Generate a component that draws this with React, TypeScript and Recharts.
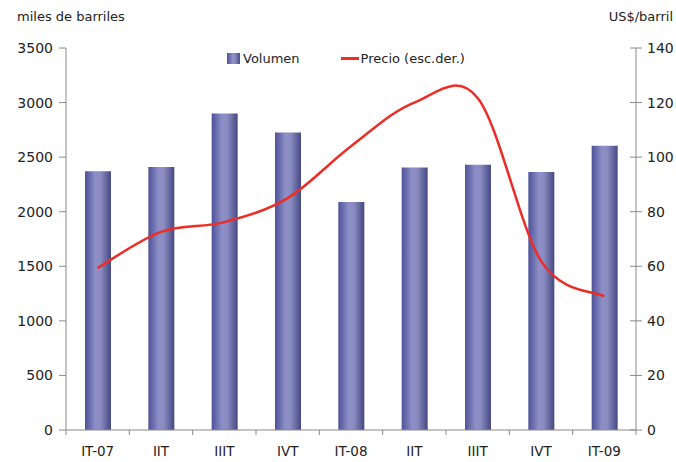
import React from "react";
import { ComposedChart, Bar, Line, XAxis, YAxis, Legend } from "recharts";

// trimestres
const categories = ["IT-07", "IIT", "IIIT", "IVT", "IT-08", "IIT", "IIIT", "IVT", "IT-09"];
// miles de barriles
const volumen = [2370, 2410, 2900, 2725, 2090, 2405, 2430, 2365, 2605];
// US$/barril
const precio = [59.4, 72.6, 76.2, 85, 104, 120, 121.7, 62, 49];

const volTicks = [0, 500, 1000, 1500, 2000, 2500, 3000, 3500];
const precioTicks = [0, 20, 40, 60, 80, 100, 120, 140];

const data = categories.map((c, i) => ({
  periodo: c,
  volumen: volumen[i],
  precio: precio[i],
}));

const AXIS = "#8a8a8a";
const TXT = "#222";
const FONT = "'DejaVu Sans', Verdana, sans-serif";
const X_GAP = 16; // tickSize + tickMargin del eje x
const R_GAP = 11; // tickSize + tickMargin del eje derecho

// suavizado tipo Excel (bezier, puntos de control a 1/6)
const smoothCurve = (context: any) => {
  let pts: number[][] = [];
  return {
    areaStart() {},
    areaEnd() {},
    lineStart() {
      pts = [];
    },
    point(x: number, y: number) {
      pts.push([+x, +y]);
    },
    lineEnd() {
      const n = pts.length;
      if (!n) return;
      context.moveTo(pts[0][0], pts[0][1]);
      for (let i = 0; i < n - 1; i++) {
        const p0 = pts[i - 1] || pts[i];
        const p1 = pts[i];
        const p2 = pts[i + 1];
        const p3 = pts[i + 2] || p2;
        context.bezierCurveTo(
          p1[0] + (p2[0] - p0[0]) / 6,
          p1[1] + (p2[1] - p0[1]) / 6,
          p2[0] - (p3[0] - p1[0]) / 6,
          p2[1] - (p3[1] - p1[1]) / 6,
          p2[0],
          p2[1]
        );
      }
    },
  };
};

// etiqueta centrada + marcas entre categorías
const XTick = (props: any) => {
  const { x, y, payload, index, visibleTicksCount } = props;
  const half = payload?.offset || 570 / 9 / 2;
  const y0 = y - X_GAP;
  const last = index === visibleTicksCount - 1;
  return (
    <g>
      <line x1={x - half} x2={x - half} y1={y0} y2={y0 + 5} stroke={AXIS} />
      {last && <line x1={x + half} x2={x + half} y1={y0} y2={y0 + 5} stroke={AXIS} />}
      <text x={x} y={y} dy="0.71em" textAnchor="middle" fill={TXT} fontSize={13.5}>
        {payload.value}
      </text>
    </g>
  );
};

// marcas que cruzan el eje derecho
const RTick = (props: any) => {
  const { x, y, payload } = props;
  const x0 = x - R_GAP;
  return (
    <g>
      <line x1={x0 - 6} x2={x0} y1={y} y2={y} stroke={AXIS} />
      <text x={x} y={y} dy="0.355em" textAnchor="start" fill={TXT} fontSize={14}>
        {payload.value}
      </text>
    </g>
  );
};

const LegendBox = () => (
  <div style={{ display: "flex", alignItems: "center", fontSize: 13, color: TXT, fontFamily: FONT }}>
    <span
      style={{
        display: "inline-block",
        width: 13,
        height: 11,
        marginRight: 3,
        background: "linear-gradient(to right, #50549a, #8e90c6 45%, #8a8cc2 60%, #484b85)",
      }}
    />
    <span style={{ marginRight: 41 }}>Volumen</span>
    <span style={{ display: "inline-block", width: 18, height: 3, background: "#ee2c26", marginRight: 2 }} />
    <span>Precio (esc.der.)</span>
  </div>
);

const App: React.FC = () => {
  return (
    <div
      style={{
        position: "absolute",
        left: 0,
        top: 0,
        width: 676,
        height: 462,
        background: "#fff",
        fontFamily: FONT,
      }}
    >
      <div style={{ position: "absolute", left: 17, top: 9, fontSize: 13, color: TXT }}>miles de barriles</div>
      <div style={{ position: "absolute", right: 3, top: 9, fontSize: 13, color: TXT }}>US$/barril</div>
      <ComposedChart
        width={676}
        height={462}
        data={data}
        margin={{ top: 48, right: 0, bottom: 0, left: 0 }}
        style={{ fontFamily: FONT }}
      >
        <defs>
          <linearGradient id="barGrad" x1="0" y1="0" x2="1" y2="0">
            <stop offset="0%" stopColor="#4e5298" />
            <stop offset="40%" stopColor="#8d8fc6" />
            <stop offset="60%" stopColor="#898bc1" />
            <stop offset="100%" stopColor="#464982" />
          </linearGradient>
        </defs>
        <XAxis
          dataKey="periodo"
          height={32}
          tickLine={false}
          tickSize={0}
          tickMargin={X_GAP}
          stroke={AXIS}
          tick={<XTick />}
          interval={0}
        />
        <YAxis
          yAxisId="left"
          domain={[0, 3500]}
          ticks={volTicks}
          width={66}
          tickSize={7}
          tickMargin={6}
          stroke={AXIS}
          tick={{ fill: TXT, fontSize: 14 }}
        />
        <YAxis
          yAxisId="right"
          orientation="right"
          domain={[0, 140]}
          ticks={precioTicks}
          width={40}
          tickSize={6}
          tickMargin={R_GAP - 6}
          stroke={AXIS}
          tick={<RTick />}
        />
        <Legend
          verticalAlign="middle"
          layout="horizontal"
          content={<LegendBox />}
          wrapperStyle={{ top: 51, left: 227, width: 320 }}
        />
        <Bar yAxisId="left" dataKey="volumen" barSize={26} fill="url(#barGrad)" isAnimationActive={false} />
        <Line
          yAxisId="right"
          dataKey="precio"
          type={smoothCurve as any}
          stroke="#ee2c26"
          strokeWidth={2.5}
          dot={false}
          isAnimationActive={false}
        />
      </ComposedChart>
    </div>
  );
};

export default App;
